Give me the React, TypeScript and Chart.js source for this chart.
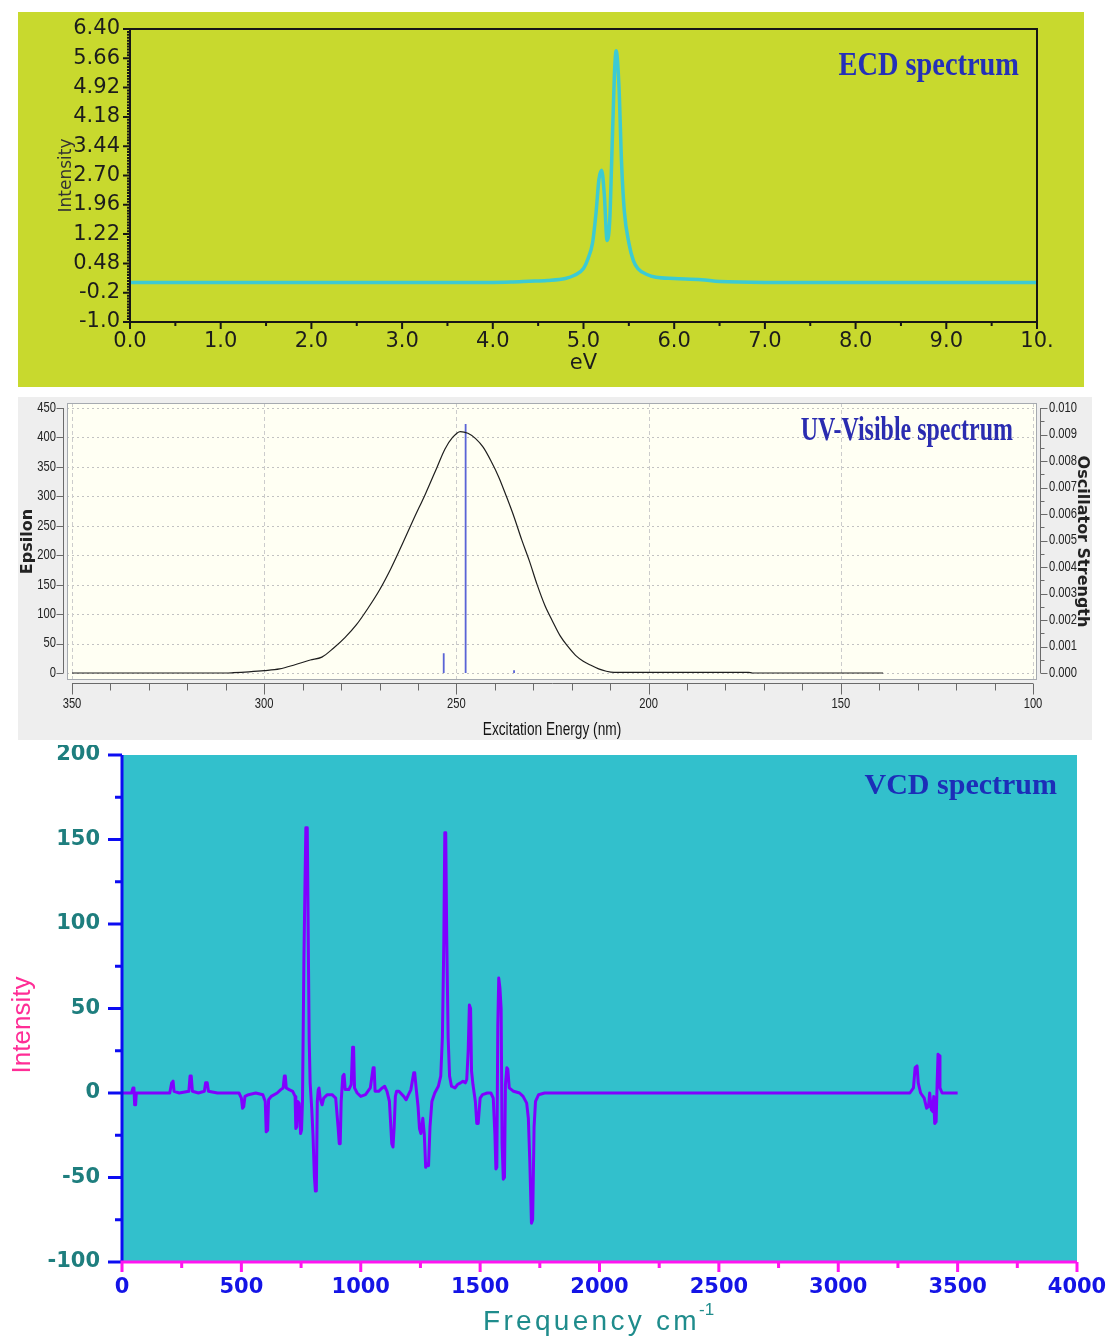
import React, { useEffect, useRef } from 'react';
import { Chart, registerables } from 'chart.js';

Chart.register(...registerables);

// ---------------- ECD spectrum data ----------------
const ecdEnergy = [0, 1, 2, 3, 4.0, 4.2, 4.4, 4.6, 4.8, 4.9, 5.0, 5.05, 5.1, 5.14, 5.17, 5.2, 5.23, 5.26, 5.29, 5.31, 5.34, 5.36, 5.39, 5.42, 5.45, 5.5, 5.55, 5.6, 5.7, 5.8, 6.0, 6.3, 6.5, 7.0, 8, 9, 10];
const ecdIntensity = [0, 0, 0, 0, 0, 0.01, 0.03, 0.05, 0.1, 0.18, 0.35, 0.6, 1.0, 1.8, 2.6, 2.83, 2.2, 1.06, 1.6, 3.0, 5.2, 5.85, 5.0, 3.0, 1.8, 1.0, 0.55, 0.35, 0.2, 0.13, 0.1, 0.07, 0.02, 0, 0, 0, 0];
const ecdYTicks = [-1.0, -0.26, 0.48, 1.22, 1.96, 2.70, 3.44, 4.18, 4.92, 5.66, 6.40];
const ecdYTickLabels = ['-1.0', '-0.2', '0.48', '1.22', '1.96', '2.70', '3.44', '4.18', '4.92', '5.66', '6.40'];
const ecdXTicks = [0, 1, 2, 3, 4, 5, 6, 7, 8, 9, 10];
const ecdXTickLabels = ['0.0', '1.0', '2.0', '3.0', '4.0', '5.0', '6.0', '7.0', '8.0', '9.0', '10.'];

// ---------------- UV-Visible spectrum data ----------------
const uvNm = [350, 340, 330, 320, 310, 308, 304, 300, 296, 292, 288, 285, 282, 279, 276, 273, 270, 267, 264, 261, 258, 255, 253, 251, 249, 247, 245, 243, 241, 239, 237, 235, 233, 231, 229, 227, 225, 223, 221, 219, 217, 215, 213, 211, 209, 205, 190, 174, 173, 160, 150, 139];
const uvEpsilon = [0, 0, 0, 0, 0, 0.5, 2, 4, 7, 14, 22, 27, 42, 60, 82, 110, 141, 178, 220, 263, 305, 350, 380, 400, 410, 407, 398, 383, 360, 333, 300, 265, 226, 190, 150, 115, 88, 63, 45, 30, 20, 13, 7, 3, 1, 1, 1, 1, 0, 0, 0, 0];
const uvStickNm = [253.3, 247.6, 235.0];
const uvStickStrength = [0.00075, 0.0094, 0.0001];
const uvXTicks = [350, 300, 250, 200, 150, 100];
const uvYTicks = [0, 50, 100, 150, 200, 250, 300, 350, 400, 450];
const uvY2Ticks = [0, 0.001, 0.002, 0.003, 0.004, 0.005, 0.006, 0.007, 0.008, 0.009, 0.010];
const uvY2TickLabels = ['0.000', '0.001', '0.002', '0.003', '0.004', '0.005', '0.006', '0.007', '0.008', '0.009', '0.010'];

// ---------------- VCD spectrum data ----------------
const vcdFreq = [
  0, 40, 46, 50, 53, 57, 60, 200, 208, 214,
  218, 240, 280, 285, 290, 295, 320, 345, 350, 357,
  362, 400, 490, 500, 505, 510, 515, 530, 560, 590,
  600, 604, 610, 614, 625, 650, 665, 675, 680, 684,
  688, 700, 715, 725, 728, 732, 736, 742, 748, 752,
  756, 762, 766, 770, 776, 780, 784, 788, 795, 800,
  806, 810, 814, 818, 822, 825, 830, 838, 845, 860,
  880, 895, 905, 910, 914, 918, 925, 930, 935, 950,
  960, 966, 970, 974, 985, 1000, 1020, 1040, 1052, 1056,
  1060, 1075, 1090, 1100, 1110, 1120, 1130, 1135, 1140, 1145,
  1150, 1160, 1180, 1190, 1200, 1210, 1222, 1226, 1232, 1240,
  1246, 1252, 1260, 1266, 1272, 1278, 1284, 1290, 1298, 1310,
  1325, 1335, 1342, 1348, 1352, 1356, 1360, 1366, 1372, 1380,
  1395, 1405, 1418, 1428, 1438, 1444, 1450, 1455, 1460, 1464,
  1470, 1480, 1486, 1492, 1500, 1510, 1530, 1545, 1555, 1562,
  1566, 1570, 1574, 1578, 1583, 1588, 1592, 1597, 1602, 1606,
  1612, 1616, 1622, 1640, 1665, 1680, 1695, 1702, 1708, 1715,
  1720, 1726, 1732, 1745, 1770, 1900, 3300, 3315, 3322, 3330,
  3335, 3345, 3360, 3370, 3378, 3383, 3390, 3396, 3400, 3404,
  3410, 3414, 3418, 3422, 3426, 3435, 3500,
];
const vcdIntensity = [
  0, 0, 3, 3, -7, -7, 0, 0, 6, 7,
  1, 0, 1, 10, 10, 1, 0, 1, 6, 6,
  1, 0, 0, -3, -9, -8, -2, -1, 0, -1,
  -5, -23, -22, -4, -2, 0, 2, 3, 10, 10,
  3, 2, 1, -2, -21, -20, -5, -6, -24, -22,
  -5, 80, 119, 157, 157, 93, 31, 6, -10, -25,
  -50, -58, -58, -5, 2, 3, -3, -7, -3, -1,
  -1, -3, -20, -30, -30, -5, 10, 11, 2, 2,
  5, 27, 27, 3, 0, -2, -1, 3, 15, 15,
  1, 1, 3, 4, 1, -5, -30, -32, -20, -2,
  1, 1, -2, -4, -1, 2, 12, 12, 3, -8,
  -21, -24, -15, -24, -44, -42, -43, -20, -5, 0,
  4, 10, 33, 90, 154, 154, 93, 33, 10, 4,
  3, 5, 6, 7, 6, 8, 25, 52, 50, 13,
  5, -5, -18, -18, -3, -1, 0, 0, -3, -25,
  -45, -44, 40, 68, 62, 50, -30, -51, -50, 5,
  15, 14, 3, 1, 0, -2, -6, -15, -40, -77,
  -75, -20, -5, -1, 0, 0, 0, 3, 15, 16,
  6, 0, -3, -9, -8, 0, -10, -11, -2, -18,
  -17, 5, 23, 22, 3, 0, 0,
];
const vcdXTicks = [0, 500, 1000, 1500, 2000, 2500, 3000, 3500, 4000];
const vcdXTickLabels = ['0', '500', '1000', '1500', '2000', '2500', '3000', '3500', '4000'];
const vcdYTicks = [-100, -50, 0, 50, 100, 150, 200];
const vcdYTickLabels = ['-100', '-50', '0', '50', '100', '150', '200'];

// ---------------- fonts ----------------
const DJ = '"DejaVu Sans", Verdana, sans-serif';
const LIB = '"Liberation Sans", Arial, sans-serif';
const SERIF = '"Liberation Serif", "Times New Roman", serif';

function noPad(s: any) {
  s.paddingTop = 0;
  s.paddingBottom = 0;
  s.paddingLeft = 0;
  s.paddingRight = 0;
}

function drawTitle(ctx: CanvasRenderingContext2D, text: string, xRight: number, yBase: number, size: number, sx: number, color: string) {
  ctx.save();
  ctx.font = `bold ${size}px ${SERIF}`;
  ctx.fillStyle = color;
  ctx.textAlign = 'right';
  ctx.textBaseline = 'alphabetic';
  ctx.translate(xRight, yBase);
  ctx.scale(sx, 1);
  ctx.fillText(text, 0, 0);
  ctx.restore();
}

function drawNarrow(ctx: CanvasRenderingContext2D, text: string, x: number, y: number, align: CanvasTextAlign, sx: number) {
  ctx.save();
  ctx.textAlign = align;
  ctx.translate(x, y);
  ctx.scale(sx, 1);
  ctx.fillText(text, 0, 0);
  ctx.restore();
}

function drawSpaced(ctx: CanvasRenderingContext2D, text: string, x: number, y: number, spacing: number) {
  let cx = x;
  for (const ch of text) {
    ctx.fillText(ch, cx, y);
    cx += ctx.measureText(ch).width + spacing;
  }
  return cx;
}

// ---------------- plugins ----------------
const ecdPlugin = {
  id: 'ecdDeco',
  beforeDraw(chart: any) {
    const { ctx, width, height } = chart;
    ctx.save();
    ctx.fillStyle = '#c8d92e';
    ctx.fillRect(0, 0, width, height);
    ctx.restore();
  },
  afterDraw(chart: any) {
    const { ctx, chartArea: a, scales } = chart;
    const x = scales.x;
    const y = scales.y;
    ctx.save();
    ctx.strokeStyle = '#161616';
    ctx.lineWidth = 2;
    ctx.strokeRect(a.left, a.top, a.right - a.left, a.bottom - a.top);
    ctx.beginPath();
    for (let i = 0; i <= 20; i++) {
      const px = x.getPixelForValue(i * 0.5);
      const len = i % 2 === 0 ? 7 : 4;
      ctx.moveTo(px, a.bottom);
      ctx.lineTo(px, a.bottom + len);
    }
    for (let i = 0; i <= 100; i++) {
      const py = y.getPixelForValue(-1 + i * 0.074);
      const len = i % 10 === 0 ? 7 : 3;
      ctx.moveTo(a.left, py);
      ctx.lineTo(a.left - len, py);
    }
    ctx.stroke();
    ctx.restore();
    drawTitle(ctx, 'ECD spectrum', 1001, 63, 33, 0.86, '#2430b8');
  },
};

const uvPlugin = {
  id: 'uvDeco',
  beforeDraw(chart: any) {
    const { ctx, width, height, chartArea: a } = chart;
    ctx.save();
    ctx.fillStyle = '#eeeeee';
    ctx.fillRect(0, 0, width, height);
    ctx.fillStyle = '#fffff3';
    ctx.fillRect(a.left, a.top, a.right - a.left, a.bottom - a.top);
    ctx.restore();
  },
  beforeDatasetsDraw(chart: any) {
    const { ctx, chartArea: a, scales } = chart;
    const x = scales.x;
    const y = scales.y;
    ctx.save();
    ctx.lineWidth = 1;
    ctx.strokeStyle = '#c2c2c2';
    ctx.setLineDash([2, 3]);
    ctx.beginPath();
    for (const v of uvYTicks) {
      const py = Math.round(y.getPixelForValue(v)) + 0.5;
      ctx.moveTo(a.left, py);
      ctx.lineTo(a.right, py);
    }
    ctx.stroke();
    ctx.setLineDash([4, 3]);
    ctx.strokeStyle = '#cccccc';
    ctx.beginPath();
    for (const v of uvXTicks) {
      const px = Math.round(x.getPixelForValue(v)) + 0.5;
      ctx.moveTo(px, a.top);
      ctx.lineTo(px, a.bottom);
    }
    ctx.stroke();
    ctx.setLineDash([]);
    ctx.strokeStyle = '#a6aab0';
    ctx.strokeRect(a.left + 0.5, a.top + 0.5, a.right - a.left - 1, a.bottom - a.top - 1);
    ctx.restore();
  },
  afterDraw(chart: any) {
    const { ctx, chartArea: a, scales } = chart;
    const x = scales.x;
    const y = scales.y;
    const y2 = scales.y2;
    ctx.save();
    ctx.strokeStyle = '#6a6a6a';
    ctx.lineWidth = 1;
    ctx.beginPath();
    const lx = a.left - 3.5;
    ctx.moveTo(lx, y.getPixelForValue(0));
    ctx.lineTo(lx, y.getPixelForValue(450));
    for (const v of uvYTicks) {
      const py = Math.round(y.getPixelForValue(v)) + 0.5;
      ctx.moveTo(lx, py);
      ctx.lineTo(lx - 7, py);
    }
    const rx = a.right + 3.5;
    ctx.moveTo(rx, y2.getPixelForValue(0));
    ctx.lineTo(rx, y2.getPixelForValue(0.01));
    for (let i = 0; i <= 20; i++) {
      const py = Math.round(y2.getPixelForValue(i * 0.0005)) + 0.5;
      ctx.moveTo(rx, py);
      ctx.lineTo(rx + (i % 2 === 0 ? 7 : 4), py);
    }
    const by = a.bottom + 3.5;
    ctx.moveTo(x.getPixelForValue(350), by);
    ctx.lineTo(x.getPixelForValue(100), by);
    for (let v = 350; v >= 100; v -= 10) {
      const px = Math.round(x.getPixelForValue(v)) + 0.5;
      ctx.moveTo(px, by);
      ctx.lineTo(px, by + (v % 50 === 0 ? 11 : 7));
    }
    ctx.stroke();

    // condensed tick labels
    ctx.fillStyle = '#222222';
    ctx.font = `14px ${LIB}`;
    ctx.textBaseline = 'middle';
    uvYTicks.forEach((v) => drawNarrow(ctx, String(v), a.left - 11, y.getPixelForValue(v), 'right', 0.8));
    uvY2Ticks.forEach((v, i) => drawNarrow(ctx, uvY2TickLabels[i], a.right + 12, y2.getPixelForValue(v), 'left', 0.8));
    uvXTicks.forEach((v) => drawNarrow(ctx, String(v), x.getPixelForValue(v), a.bottom + 24, 'center', 0.8));

    // x axis title (condensed)
    ctx.fillStyle = '#141414';
    ctx.font = `18px ${LIB}`;
    ctx.textBaseline = 'alphabetic';
    drawNarrow(ctx, 'Excitation Energy (nm)', (a.left + a.right) / 2, 338, 'center', 0.76);
    ctx.restore();
    drawTitle(ctx, 'UV-Visible spectrum', 995, 43, 33, 0.726, '#2a2cb0');
  },
};

const vcdPlugin = {
  id: 'vcdDeco',
  beforeDraw(chart: any) {
    const { ctx, width, height, chartArea: a } = chart;
    ctx.save();
    ctx.fillStyle = '#ffffff';
    ctx.fillRect(0, 0, width, height);
    ctx.fillStyle = '#32c0cc';
    ctx.fillRect(a.left, a.top, a.right - a.left, a.bottom - a.top);
    ctx.restore();
  },
  afterDraw(chart: any) {
    const { ctx, chartArea: a, scales } = chart;
    const x = scales.x;
    const y = scales.y;
    ctx.save();
    ctx.lineWidth = 3;
    ctx.strokeStyle = '#0c0cf2';
    ctx.beginPath();
    ctx.moveTo(a.left, a.top);
    ctx.lineTo(a.left, a.bottom);
    for (let v = -100; v <= 200; v += 25) {
      const py = y.getPixelForValue(v);
      const len = v % 50 === 0 ? 14 : 7;
      ctx.moveTo(a.left, py);
      ctx.lineTo(a.left - len, py);
    }
    ctx.stroke();
    ctx.strokeStyle = '#ff14f0';
    ctx.beginPath();
    ctx.moveTo(a.left - 1.5, a.bottom);
    ctx.lineTo(a.right, a.bottom);
    for (let v = 0; v <= 4000; v += 250) {
      const px = x.getPixelForValue(v);
      const len = v % 500 === 0 ? 10 : 6;
      ctx.moveTo(px, a.bottom);
      ctx.lineTo(px, a.bottom + len);
    }
    ctx.stroke();
    ctx.restore();

    // y title
    ctx.save();
    ctx.fillStyle = '#ff2d96';
    ctx.font = `26px ${LIB}`;
    ctx.textAlign = 'center';
    ctx.textBaseline = 'middle';
    ctx.translate(23, 280);
    ctx.rotate(-Math.PI / 2);
    ctx.fillText('Intensity', 0, 0);
    ctx.restore();

    // x title with superscript
    ctx.save();
    ctx.fillStyle = '#1f8c8c';
    ctx.font = `28px ${LIB}`;
    ctx.textAlign = 'left';
    ctx.textBaseline = 'alphabetic';
    const endX = drawSpaced(ctx, 'Frequency cm', 483, 585, 3.3);
    ctx.font = `17px ${LIB}`;
    ctx.fillText('-1', endX - 1, 570);
    ctx.restore();

    drawTitle(ctx, 'VCD spectrum', 1057, 49, 30, 1.0, '#1c2eb8');
  },
};

// ---------------- chart configs ----------------
function makeEcd(): any {
  return {
    type: 'line',
    data: {
      datasets: [
        {
          data: ecdEnergy.map((e, i) => ({ x: e, y: ecdIntensity[i] })),
          borderColor: '#3ccad3',
          borderWidth: 3.5,
          pointRadius: 0,
          cubicInterpolationMode: 'monotone',
          borderJoinStyle: 'round',
          borderCapStyle: 'round',
        },
      ],
    },
    options: {
      responsive: false,
      animation: false,
      devicePixelRatio: 1,
      layout: { padding: { left: 0, top: 17, right: 47, bottom: 0 } },
      plugins: { legend: { display: false }, tooltip: { enabled: false } },
      scales: {
        x: {
          type: 'linear',
          min: 0,
          max: 10,
          afterBuildTicks: (s: any) => { s.ticks = ecdXTicks.map((v) => ({ value: v })); },
          afterFit: (s: any) => { s.height = 65; noPad(s); },
          grid: { display: false, drawTicks: false },
          border: { display: false },
          ticks: {
            autoSkip: false,
            maxRotation: 0,
            padding: 7,
            color: '#1c1c1c',
            font: { family: DJ, size: 21 },
            callback: (_v: any, i: number) => ecdXTickLabels[i],
          },
          title: { display: true, text: 'eV', color: '#1c1c1c', font: { family: DJ, size: 21 }, padding: { top: 0, bottom: 11 } },
        },
        y: {
          type: 'linear',
          min: -1.0,
          max: 6.4,
          afterBuildTicks: (s: any) => { s.ticks = ecdYTicks.map((v) => ({ value: v })); },
          afterFit: (s: any) => { s.width = 112; noPad(s); },
          grid: { display: false, drawTicks: false },
          border: { display: false },
          ticks: {
            autoSkip: false,
            padding: 10,
            color: '#1c1c1c',
            font: { family: DJ, size: 21 },
            callback: (_v: any, i: number) => ecdYTickLabels[i],
          },
          title: { display: true, text: 'Intensity', color: '#333333', font: { family: DJ, size: 17 }, padding: { top: 38, bottom: 0 } },
        },
      },
    },
    plugins: [ecdPlugin],
  };
}

function makeUv(): any {
  const sticks: any[] = [];
  uvStickNm.forEach((nm, i) => {
    sticks.push({ x: nm, y: 0 }, { x: nm, y: uvStickStrength[i] }, { x: nm, y: null });
  });
  return {
    type: 'line',
    data: {
      datasets: [
        {
          data: uvNm.map((nm, i) => ({ x: nm, y: uvEpsilon[i] })),
          borderColor: '#1e1e1e',
          borderWidth: 1.2,
          pointRadius: 0,
          cubicInterpolationMode: 'monotone',
          yAxisID: 'y',
        },
        {
          data: sticks,
          borderColor: '#5a64d6',
          borderWidth: 1.8,
          pointRadius: 0,
          spanGaps: false,
          yAxisID: 'y2',
        },
      ],
    },
    options: {
      responsive: false,
      animation: false,
      devicePixelRatio: 1,
      layout: { padding: { left: 0, top: 6, right: 0, bottom: 0 } },
      plugins: { legend: { display: false }, tooltip: { enabled: false } },
      scales: {
        x: {
          type: 'linear',
          reverse: true,
          min: 98.96,
          max: 351.3,
          afterBuildTicks: (s: any) => { s.ticks = uvXTicks.map((v) => ({ value: v })); },
          afterFit: (s: any) => { s.height = 60; noPad(s); },
          grid: { display: false, drawTicks: false },
          border: { display: false },
          ticks: { display: false },
        },
        y: {
          type: 'linear',
          position: 'left',
          min: -11.9,
          max: 458.5,
          afterBuildTicks: (s: any) => { s.ticks = uvYTicks.map((v) => ({ value: v })); },
          afterFit: (s: any) => { s.width = 49; noPad(s); },
          grid: { display: false, drawTicks: false },
          border: { display: false },
          ticks: { display: false },
          title: { display: true, text: 'Epsilon', color: '#222222', font: { family: DJ, size: 16, weight: 'bold' }, padding: { top: 0, bottom: 0 } },
        },
        y2: {
          type: 'linear',
          position: 'right',
          min: -0.000264,
          max: 0.010189,
          afterBuildTicks: (s: any) => { s.ticks = uvY2Ticks.map((v) => ({ value: v })); },
          afterFit: (s: any) => { s.width = 55; noPad(s); },
          grid: { display: false, drawTicks: false },
          border: { display: false },
          ticks: { display: false },
          title: { display: true, text: 'Oscillator Strength', color: '#222222', font: { family: DJ, size: 16, weight: 'bold' }, padding: { top: 0, bottom: 0 } },
        },
      },
    },
    plugins: [uvPlugin],
  };
}

function makeVcd(): any {
  return {
    type: 'line',
    data: {
      datasets: [
        {
          data: vcdFreq.map((f, i) => ({ x: f, y: vcdIntensity[i] })),
          borderColor: '#8000ff',
          borderWidth: 3,
          pointRadius: 0,
          tension: 0,
          borderJoinStyle: 'round',
        },
      ],
    },
    options: {
      responsive: false,
      animation: false,
      devicePixelRatio: 1,
      layout: { padding: { left: 0, top: 10, right: 31, bottom: 0 } },
      plugins: { legend: { display: false }, tooltip: { enabled: false } },
      scales: {
        x: {
          type: 'linear',
          min: 0,
          max: 4000,
          afterBuildTicks: (s: any) => { s.ticks = vcdXTicks.map((v) => ({ value: v })); },
          afterFit: (s: any) => { s.height = 76; noPad(s); },
          grid: { display: false, drawTicks: false },
          border: { display: false },
          ticks: {
            autoSkip: false,
            maxRotation: 0,
            padding: 13,
            color: '#1414e6',
            font: { family: DJ, size: 21, weight: 'bold' },
            callback: (_v: any, i: number) => vcdXTickLabels[i],
          },
        },
        y: {
          type: 'linear',
          min: -100,
          max: 200,
          afterBuildTicks: (s: any) => { s.ticks = vcdYTicks.map((v) => ({ value: v })); },
          afterFit: (s: any) => { s.width = 122; noPad(s); },
          grid: { display: false, drawTicks: false },
          border: { display: false },
          ticks: {
            autoSkip: false,
            padding: 22,
            color: '#1e7e7e',
            font: { family: DJ, size: 21, weight: 'bold' },
            callback: (_v: any, i: number) => vcdYTickLabels[i],
          },
        },
      },
    },
    plugins: [vcdPlugin],
  };
}

function Panel({ left, top, width, height, make }: { left: number; top: number; width: number; height: number; make: () => any }) {
  const ref = useRef<HTMLCanvasElement | null>(null);
  useEffect(() => {
    if (!ref.current) return;
    const chart = new Chart(ref.current, make());
    return () => chart.destroy();
  }, [make]);
  return (
    <div style={{ position: 'absolute', left, top, width, height }}>
      <canvas ref={ref} width={width} height={height} style={{ display: 'block', width, height }} />
    </div>
  );
}

export default function App() {
  return (
    <div style={{ position: 'absolute', left: 0, top: 0, width: 1108, height: 1338, background: '#ffffff', overflow: 'hidden' }}>
      <Panel left={18} top={12} width={1066} height={375} make={makeEcd} />
      <Panel left={18} top={397} width={1074} height={343} make={makeUv} />
      <Panel left={0} top={745} width={1108} height={593} make={makeVcd} />
    </div>
  );
}
